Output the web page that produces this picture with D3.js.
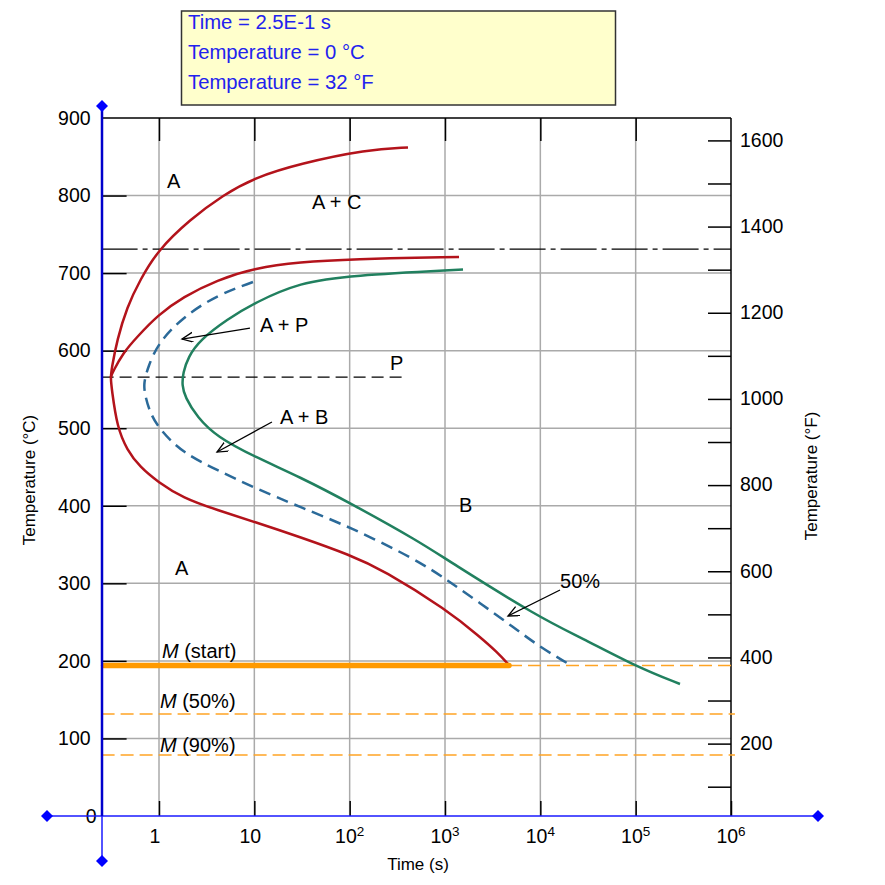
<!DOCTYPE html>
<html>
<head>
<meta charset="utf-8">
<script src="https://cdn.jsdelivr.net/npm/d3@7"></script>
<style>
  html, body { margin: 0; padding: 0; background: #fff; }
  svg { display: block; font-family: "Liberation Sans", Arial, sans-serif; }
</style>
</head>
<body>
<svg id="chart" width="885" height="885"></svg>
<script>
// ---------------- DATA ----------------
const timeTicks = [1, 10, 100, 1000, 10000, 100000, 1000000];
const timeTickLabels = [["1", ""], ["10", ""], ["10", "2"], ["10", "3"], ["10", "4"], ["10", "5"], ["10", "6"]];
const tempCTicks = [0, 100, 200, 300, 400, 500, 600, 700, 800, 900];
const tempFTicks = [100, 200, 300, 400, 500, 600, 700, 800, 900, 1000, 1100, 1200, 1300, 1400, 1500, 1600];
const tempFLabels = [200, 400, 600, 800, 1000, 1200, 1400, 1600];

// Transformation start (red): upper branch -> nose -> lower branch to Ms
const redStartCurve = [
  [409, 862], [152, 859.4], [30.1, 841.3], [10.16, 823.3], [4.69, 800.7], [2.114, 769],
  [0.976, 729.8], [0.632, 691.1], [0.462, 656.3], [0.363, 613.8], [0.32, 578], [0.31, 565],
  [0.32, 550], [0.363, 501.6], [0.462, 471.9], [0.632, 450.0], [0.976, 430.7], [1.786, 410.0],
  [4.06, 394.6], [10.16, 379.1], [30.1, 359.7], [101, 336.5], [224, 317.2], [1050, 265.6],
  [2330, 230.8], [3514, 211.5], [4691, 194.7]
];
// Red curve (pearlite start) from the nose to ~720 °C
const redPearliteCurve = [
  [1403, 720.8], [101, 718.2], [30.1, 714.3], [10.16, 706.6], [4.06, 691.1], [1.786, 669.2],
  [0.976, 646.0], [0.588, 617.6], [0.419, 597.0], [0.329, 573], [0.31, 565]
];
// 50 % transformation (blue dashed)
const halfCurve = [
  [9.68, 688.5], [4.06, 671.7], [1.786, 643.4], [0.976, 609.8], [0.767, 578.9], [0.688, 558],
  [0.713, 542.8], [0.805, 519.6], [1.024, 497.7], [1.786, 468.0], [4.06, 446.1], [10.16, 422.9],
  [30.1, 398.4], [101, 372.6], [509, 330.1], [1050, 304.3], [2330, 274.6], [5164, 243.7],
  [9928, 217.9], [19050, 197.3]
];
// Transformation finish (green)
const finishCurve = [
  [1545, 704.6], [101, 696.9], [30.1, 687.9], [10.16, 662.1], [5.17, 640.2], [2.69, 613.8],
  [2.02, 591.8], [1.786, 571.2], [1.743, 555.7], [1.873, 540.2], [2.504, 514.5], [4.06, 488.7],
  [10.16, 462.9], [30.1, 437.1], [101, 403.6], [547, 353.3], [1050, 330.1], [9928, 255.3],
  [26080, 230.8], [103300, 192.1], [291800, 170.2]
];

const a1Temp = 731;            // dash-dot eutectoid line
const pLineTemp = 566;         // P dashed line
const pLineEnd = 400;          // time where P line ends
const msTemp = 194;            // M start
const msEnd = 4691;            // time where thick Ms ends
const m50Temp = 131.5;
const m90Temp = 78.7;
const lineStartTime = 0.25;
const lineEndTime = 1.1e6;

const regionLabels = [
  { text: "A", t: 1.213, T: 809.7 },
  { text: "A + C", t: 40.3, T: 782.7 },
  { text: "A + P", t: 11.47, T: 624.1 },
  { text: "P", t: 265, T: 574.8 },
  { text: "A + B", t: 18.6, T: 505.4 },
  { text: "B", t: 1403, T: 392.0 },
  { text: "A", t: 1.47, T: 310.7 },
  { text: "50%", t: 16090, T: 294.0 }
];
const mLabels = [
  { text: " (start)", t: 1.075, T: 203.7 },
  { text: " (50%)", t: 1.024, T: 139.3 },
  { text: " (90%)", t: 1.024, T: 82.5 }
];
const arrows = [
  { from: [9.0, 629.2], to: [1.743, 615.0] },
  { from: [15.3, 508.0], to: [4.06, 469.3] },
  { from: [16090, 291.4], to: [4580, 257.9] }
];
const infoLines = ["Time = 2.5E-1 s", "Temperature = 0 °C", "Temperature = 32 °F"];

// ---------------- SCALES ----------------
const plotL = 101.6, plotR = 731, plotT = 118, plotB = 816;
const x = d3.scaleLog().domain([0.25, 1e6]).range([plotL, plotR]);
const y = d3.scaleLinear().domain([0, 900]).range([plotB, plotT]);
const yF = d3.scaleLinear().domain([32, 900 * 9 / 5 + 32]).range([plotB, plotT]);

const svg = d3.select("#chart");

// ---------------- INFO BOX ----------------
svg.append("rect").attr("x", 181.5).attr("y", 11).attr("width", 434).attr("height", 94)
  .attr("fill", "#ffffcc").attr("stroke", "#333").attr("stroke-width", 1.5);
svg.selectAll("text.info").data(infoLines).join("text").attr("class", "info")
  .attr("x", 188).attr("y", (d, i) => 29 + i * 30)
  .attr("fill", "#2222ee").attr("font-size", 20.3).text(d => d);

// ---------------- GRID ----------------
const grid = svg.append("g").attr("stroke", "#aaaaaa").attr("stroke-width", 1.5);
grid.selectAll("line.v").data(timeTicks.filter(d => d < 1e6)).join("line").attr("class", "v")
  .attr("x1", d => x(d)).attr("x2", d => x(d)).attr("y1", plotT).attr("y2", plotB);
grid.selectAll("line.h").data(tempCTicks.filter(d => d > 0 && d < 900)).join("line").attr("class", "h")
  .attr("x1", plotL).attr("x2", plotR).attr("y1", d => y(d)).attr("y2", d => y(d));

// ---------------- AXES ----------------
function styleAxis(g) {
  g.select(".domain").remove();
  g.selectAll(".tick line").attr("stroke", "#000").attr("stroke-width", 1.5);
  g.selectAll(".tick text").attr("fill", "#000").attr("font-size", 19.5)
    .attr("font-family", "'Liberation Sans', Arial, sans-serif");
}
svg.append("line").attr("x1", plotL).attr("x2", plotR).attr("y1", plotT).attr("y2", plotT)
  .attr("stroke", "#000").attr("stroke-width", 1.5);
svg.append("line").attr("x1", plotR).attr("x2", plotR).attr("y1", plotT).attr("y2", plotB)
  .attr("stroke", "#000").attr("stroke-width", 1.5);
svg.append("g").attr("transform", `translate(0,${plotT})`)
  .call(d3.axisTop(x).tickValues(timeTicks.filter(d => d < 1e6)).tickSize(-23).tickFormat(""))
  .call(styleAxis);
svg.append("g").attr("transform", `translate(0,${plotB})`)
  .call(d3.axisBottom(x).tickValues(timeTicks).tickSize(-15).tickFormat(""))
  .call(styleAxis);
const xl = svg.append("g").attr("font-size", 19.5).attr("fill", "#000");
timeTicks.forEach((d, i) => {
  const lab = timeTickLabels[i];
  const t = xl.append("text").attr("x", x(d) + (lab[1] ? 0 : -4)).attr("y", 843)
    .attr("text-anchor", "middle");
  t.append("tspan").text(lab[0]);
  if (lab[1]) t.append("tspan").attr("font-size", 13.5).attr("dy", -7).text(lab[1]);
});
svg.append("g").attr("transform", `translate(${plotL},0)`)
  .call(d3.axisLeft(y).tickValues(tempCTicks).tickSize(-25).tickPadding(11).tickFormat(d3.format("d")))
  .call(styleAxis)
  .call(g => g.selectAll(".tick").filter(d => d === 0).select("text").attr("x", -5))
  .call(g => g.selectAll(".tick").filter(d => d === 0 || d === 900).select("line").remove());
svg.append("g").attr("transform", `translate(${plotR},0)`)
  .call(d3.axisRight(yF).tickValues(tempFTicks).tickSize(-23).tickPadding(9)
    .tickFormat(d => tempFLabels.includes(d) ? d : ""))
  .call(styleAxis)
  .call(g => g.selectAll(".tick text").attr("dy", "0.3em"));

svg.append("text").attr("transform", "translate(35,480) rotate(-90)").attr("text-anchor", "middle")
  .attr("font-size", 17).text("Temperature (°C)");
svg.append("text").attr("transform", "translate(817,476) rotate(-90)").attr("text-anchor", "middle")
  .attr("font-size", 17).text("Temperature (°F)");
svg.append("text").attr("x", 418).attr("y", 870).attr("text-anchor", "middle")
  .attr("font-size", 17).text("Time (s)");

// ---------------- REFERENCE LINES ----------------
svg.append("line").attr("x1", x(lineStartTime)).attr("x2", plotR).attr("y1", y(a1Temp)).attr("y2", y(a1Temp))
  .attr("stroke", "#000").attr("stroke-width", 1.3).attr("stroke-dasharray", "36,5,5,5");
svg.append("line").attr("x1", x(lineStartTime)).attr("x2", x(pLineEnd)).attr("y1", y(pLineTemp)).attr("y2", y(pLineTemp))
  .attr("stroke", "#000").attr("stroke-width", 1.3).attr("stroke-dasharray", "12,6");

const orangeDash = "#ffa424";
svg.append("line").attr("x1", x(msEnd)).attr("x2", x(lineEndTime)).attr("y1", y(msTemp)).attr("y2", y(msTemp))
  .attr("stroke", orangeDash).attr("stroke-width", 1.5).attr("stroke-dasharray", "13,6");
[m50Temp, m90Temp].forEach(T => {
  svg.append("line").attr("x1", x(lineStartTime)).attr("x2", x(lineEndTime)).attr("y1", y(T)).attr("y2", y(T))
    .attr("stroke", orangeDash).attr("stroke-width", 1.5).attr("stroke-dasharray", "13,6");
});

// ---------------- CURVES ----------------
const line = d3.line().x(d => x(d[0])).y(d => y(d[1])).curve(d3.curveBasis);
svg.append("path").attr("d", line(halfCurve)).attr("fill", "none")
  .attr("stroke", "#2b6a99").attr("stroke-width", 2.5).attr("stroke-dasharray", "12,7");
svg.append("path").attr("d", line(finishCurve)).attr("fill", "none")
  .attr("stroke", "#21805f").attr("stroke-width", 2.5);
svg.append("path").attr("d", line(redPearliteCurve)).attr("fill", "none")
  .attr("stroke", "#b3131b").attr("stroke-width", 2.5);
svg.append("path").attr("d", line(redStartCurve)).attr("fill", "none")
  .attr("stroke", "#b3131b").attr("stroke-width", 2.5);

svg.append("line").attr("x1", x(lineStartTime) + 2).attr("x2", x(msEnd)).attr("y1", y(msTemp)).attr("y2", y(msTemp))
  .attr("stroke", "#ff9a00").attr("stroke-width", 5.5).attr("stroke-linecap", "round");

// ---------------- ARROWS ----------------
svg.append("defs").append("marker").attr("id", "arr").attr("markerUnits", "userSpaceOnUse")
  .attr("markerWidth", 14).attr("markerHeight", 12).attr("refX", 11).attr("refY", 5)
  .attr("orient", "auto")
  .append("path").attr("d", "M0,0 L11,5 L0,10").attr("fill", "none").attr("stroke", "#000").attr("stroke-width", 1.3);
svg.selectAll("line.arrow").data(arrows).join("line").attr("class", "arrow")
  .attr("x1", d => x(d.from[0])).attr("y1", d => y(d.from[1]))
  .attr("x2", d => x(d.to[0])).attr("y2", d => y(d.to[1]))
  .attr("stroke", "#000").attr("stroke-width", 1.3).attr("marker-end", "url(#arr)");

// ---------------- LABELS ----------------
svg.selectAll("text.region").data(regionLabels).join("text").attr("class", "region")
  .attr("x", d => x(d.t)).attr("y", d => y(d.T)).attr("font-size", 20).attr("fill", "#000")
  .text(d => d.text);
const ml = svg.selectAll("text.mlab").data(mLabels).join("text").attr("class", "mlab")
  .attr("x", d => x(d.t)).attr("y", d => y(d.T)).attr("font-size", 20).attr("fill", "#000");
ml.append("tspan").attr("font-style", "italic").text("M");
ml.append("tspan").text(d => d.text);

// ---------------- BLUE ORIGIN AXES ----------------
const blue = svg.append("g");
blue.append("line").attr("x1", 47).attr("x2", 818).attr("y1", plotB).attr("y2", plotB)
  .attr("stroke", "#1a1aff").attr("stroke-width", 1.6);
blue.append("line").attr("x1", 102).attr("x2", 102).attr("y1", 106).attr("y2", plotB)
  .attr("stroke", "#0000cc").attr("stroke-width", 2.5);
blue.append("line").attr("x1", 102).attr("x2", 102).attr("y1", plotB).attr("y2", 861)
  .attr("stroke", "#1a1aff").attr("stroke-width", 1.5);
[[102, 106], [102, 861], [47, 816], [818, 816]].forEach(p => {
  blue.append("path").attr("d", `M${p[0]},${p[1] - 6} L${p[0] + 6},${p[1]} L${p[0]},${p[1] + 6} L${p[0] - 6},${p[1]} Z`)
    .attr("fill", "#0000ff");
});
</script>
</body>
</html>
